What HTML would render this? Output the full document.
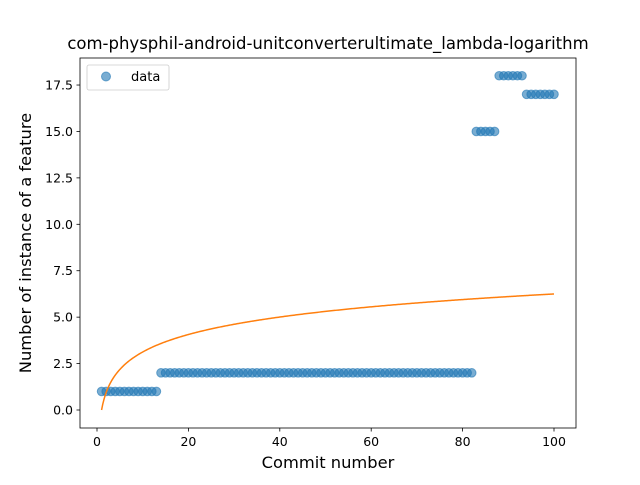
<!DOCTYPE html>
<html><head><meta charset="utf-8"><style>
body{margin:0;background:#fff}
text{font-family:"DejaVu Sans","Liberation Sans",sans-serif;fill:#000}
</style></head><body>
<svg id="chart" width="640" height="480" xmlns="http://www.w3.org/2000/svg">
<rect width="640" height="480" fill="#fff"/>
<text x="328" y="49" font-size="16.5" text-anchor="middle">com-physphil-android-unitconverterultimate_lambda-logarithm</text>
<g id="plot"></g>
<rect x="80" y="58" width="496" height="370" fill="none" stroke="#000" stroke-width="0.8"/>
<text x="328" y="468" font-size="16.3" text-anchor="middle">Commit number</text>
<text transform="translate(31,243) rotate(-90)" font-size="16.3" text-anchor="middle">Number of instance of a feature</text>
<g>
<rect x="87" y="65" width="82" height="25" rx="2" fill="#fff" stroke="#ccc" stroke-width="0.8"/>
<circle cx="106" cy="76.5" r="4.5" fill="#1f77b4" fill-opacity="0.6" stroke="#1f77b4" stroke-opacity="0.6"/>
<text x="131" y="81" font-size="13">data</text>
</g>
</svg>
<script>
const commits = [];
for (let i = 1; i <= 100; i++) commits.push(i);
const values = [1,1,1,1,1,1,1,1,1,1,1,1,1,
2,2,2,2,2,2,2,2,2,2,2,2,2,2,2,2,2,2,2,2,2,2,2,2,2,2,2,2,2,2,2,2,2,2,2,2,2,2,2,2,2,2,2,2,2,2,2,2,2,2,2,2,2,2,2,2,2,2,2,2,2,2,2,2,2,2,2,2,2,
15,15,15,15,15,
18,18,18,18,18,18,
17,17,17,17,17,17,17];
const fitA = 1.357, fitB = 0;
const xTicks = [0,20,40,60,80,100];
const yTicks = [0,2.5,5,7.5,10,12.5,15,17.5];
const yTickLabels = ["0.0","2.5","5.0","7.5","10.0","12.5","15.0","17.5"];

const X = v => 97 + v * 4.57;
const Y = v => 410 - v * 18.57;
const NS = "http://www.w3.org/2000/svg";
const svg = document.getElementById('chart');
const plot = document.getElementById('plot');
function mk(tag, attrs, parent){const e=document.createElementNS(NS,tag);for(const k in attrs)e.setAttribute(k,attrs[k]);(parent||plot).appendChild(e);return e;}

xTicks.forEach(t=>{
  const g=mk('g',{},svg);
  
  
  mk('line',{x1:X(t),x2:X(t),y1:428,y2:431.5,stroke:'#000','stroke-width':0.8},g);
  const tx=mk('text',{x:X(t),y:446,'font-size':12.5,'text-anchor':'middle'},g);tx.textContent=t;
});
yTicks.forEach((t,i)=>{
  const g=mk('g',{},svg);
  
  
  mk('line',{x1:76.5,x2:80,y1:Y(t),y2:Y(t),stroke:'#000','stroke-width':0.8},g);
  const tx=mk('text',{x:73,y:Y(t)+4.5,'font-size':12.5,'text-anchor':'end'},g);tx.textContent=yTickLabels[i];
});
commits.forEach((c,i)=>{
  const p=mk('circle',{cx:X(c),cy:Y(values[i]),r:4.3,fill:'#1f77b4','fill-opacity':0.6,stroke:'#1f77b4','stroke-opacity':0.6});
  
  
});
let d='';
for(let x=1;x<=100;x+=0.25){d+=(d?'L':'M')+X(x).toFixed(2)+','+Y(fitA*Math.log(x)+fitB).toFixed(2);}
const fit=mk('path',{d:d,fill:'none',stroke:'#ff7f0e','stroke-width':1.5});


</script>
</body></html>
